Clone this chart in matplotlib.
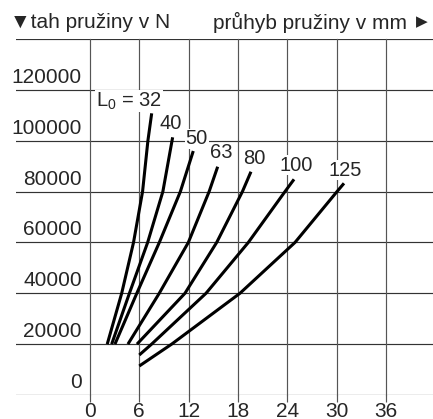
import matplotlib
matplotlib.use("Agg")
import matplotlib.pyplot as plt
import matplotlib.transforms as mtransforms

plt.rcParams['font.family'] = ['Liberation Sans', 'DejaVu Sans']
plt.rcParams['mathtext.default'] = 'regular'

# spring deflection (mm) vs. spring force (N) for free lengths L0
lengths = ['32', '40', '50', '63', '80', '100', '125']
deflection = [
    [2.1, 3.86, 5.3, 6.4, 7.05, 7.51],
    [2.64, 4.8, 7.02, 8.87, 10.06],
    [3.04, 5.7, 8.44, 11.0, 12.57],
    [4.62, 8.43, 11.97, 14.5, 15.54],
    [5.72, 11.56, 15.42, 18.55, 19.59],
    [6.0, 7.5, 14.12, 19.27, 23.73, 24.83],
    [6.0, 9.94, 18.25, 24.95, 30.06, 30.91],
]
force = [
    [20000, 40000, 60000, 80000, 100000, 110770],
    [20000, 40000, 60000, 80000, 101340],
    [20000, 40000, 60000, 80000, 95950],
    [20000, 40000, 60000, 80000, 89780],
    [20000, 40000, 60000, 80000, 87810],
    [15730, 20000, 40000, 60000, 80000, 84820],
    [11400, 20000, 40000, 60000, 80000, 83250],
]
# label positions (centre of text) for each curve
label_x = [4.75, 9.86, 13.0, 15.94, 19.96, 25.07, 31.03]
label_y = [115600, 106960, 100800, 95280, 93070, 90440, 88480]

x_ticks = [0, 6, 12, 18, 24, 30, 36]
y_ticks = [0, 20000, 40000, 60000, 80000, 100000, 120000, 140000]
y_labels = ['0', '20000', '40000', '60000', '80000', '100000', '120000', '']

fig = plt.figure(figsize=(4.33, 4.19), dpi=100)
ax = fig.add_axes([16 / 433, 24 / 419, 417 / 433, 356 / 419])
ax.set_xlim(-9.0, 41.74)
ax.set_ylim(0, 140000)
for s in ax.spines.values():
    s.set_visible(False)

text_col = '#262626'
for v in y_ticks:
    ax.axhline(v, color='#333333', lw=0.85, zorder=1)
for v in x_ticks:
    ax.plot([v, v], [0, 140000], color='#555555', lw=0.85, zorder=1, clip_on=False)

ax.set_xticks(x_ticks)
ax.set_xticklabels([str(v) for v in x_ticks])
ax.tick_params(axis='x', direction='out', length=5, width=0.85, color='#555555',
               pad=0, labelsize=15, labelcolor=text_col)
ax.set_yticks([])

# y labels sit just above their grid line
lab_tr = mtransforms.offset_copy(ax.transData, fig=fig, x=0, y=7, units='dots')
for v, s in zip(y_ticks, y_labels):
    ax.text(-0.97, v, s, ha='right', va='baseline', fontsize=15,
            color=text_col, transform=lab_tr)

for xs, ys in zip(deflection, force):
    ax.plot(xs, ys, color='black', lw=2.2, solid_capstyle='butt',
            solid_joinstyle='round', zorder=3)

for i, name in enumerate(lengths):
    txt = 'L$_0$ = ' + name if i == 0 else name
    ax.text(label_x[i], label_y[i], txt, ha='center', va='center', fontsize=14.5,
            color=text_col, zorder=4,
            bbox=dict(facecolor='white', edgecolor='none', pad=0.5))

fig.text(10 / 433, 1 - 22 / 419, '\u25bctah pružiny v N', ha='left', va='center',
         fontsize=15, color=text_col)
fig.text(407 / 433, 1 - 22 / 419, 'průhyb pružiny v mm', ha='right', va='center',
         fontsize=15, color=text_col)
fig.text(422 / 433, 1 - 22 / 419, '\u25b6', ha='center', va='center',
         fontsize=11, color=text_col, family=['DejaVu Sans'])

fig.savefig('out.png', dpi=100)
